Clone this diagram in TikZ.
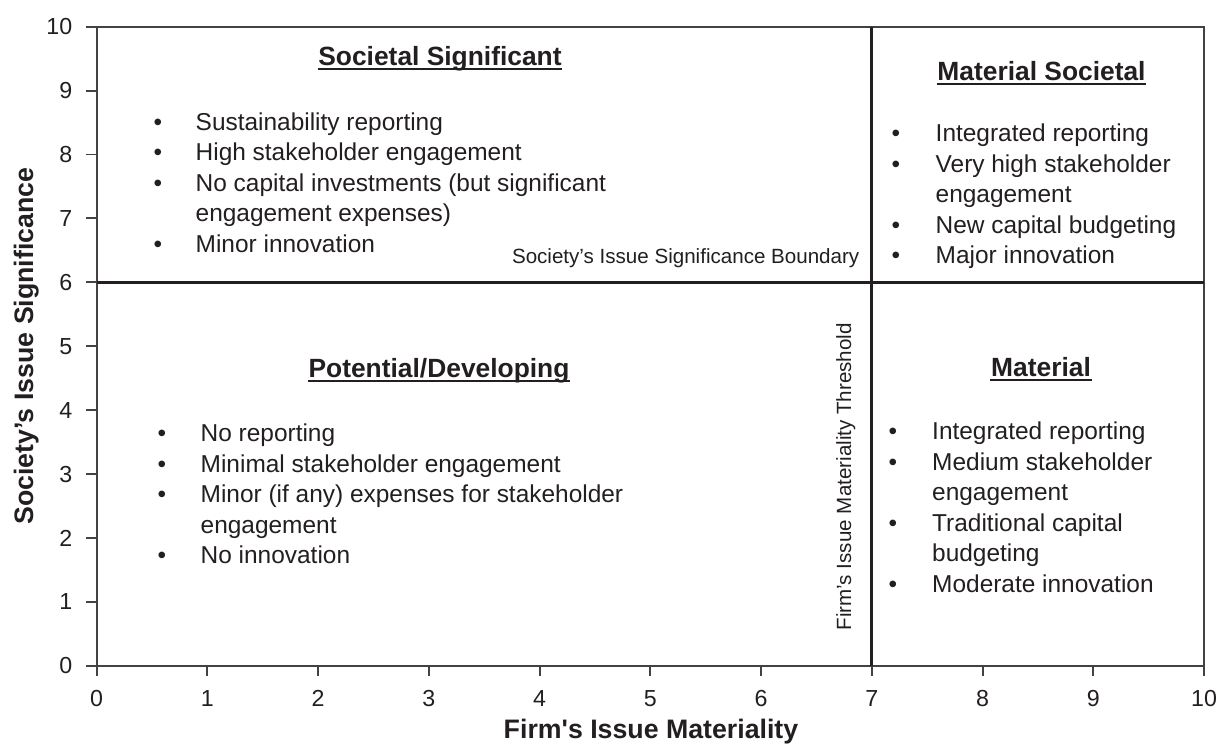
\documentclass[tikz,border=0pt]{standalone}
\usepackage{fontspec}
\setmainfont{Liberation Sans}
\definecolor{ink}{RGB}{35,31,32}
\newcommand\qfItem{\fontsize{6.95}{8}\selectfont}
\newcommand\qfHead{\fontsize{7.5}{9}\selectfont\bfseries}
\newcommand\qfTick{\fontsize{6.6}{8}\selectfont}
\newcommand\qfSmall{\fontsize{5.85}{7}\selectfont}
\newcommand\qfAxis{\fontsize{7.6}{9}\selectfont\bfseries}
\begin{document}
\begin{tikzpicture}[x=0.01cm,y=-0.01cm,
  every node/.style={inner sep=0pt, text=ink},
  itemtxt/.style={anchor=base west, font=\qfItem},
  bul/.style={anchor=base, font=\qfItem},
  heading/.style={anchor=base, font=\qfHead},
  headline/.style={draw=ink, line width=0.55pt},
  frame/.style={draw=ink!85, line width=0.55pt},
  divider/.style={draw=ink, line width=0.9pt},
  tickmark/.style={draw=ink!85, line width=0.55pt},
]
\useasboundingbox (0,0) rectangle (1221,753);
\fill[white] (0,0) rectangle (1221,753);

% frame and dividers
\coordinate (ll) at (96.7,665.7);
\coordinate (ur) at (1204,26.7);
\draw[frame] (ll) rectangle (ur);
\coordinate (h0) at (96.7,282.3);
\coordinate (h1) at (1204,282.3);
\coordinate (v0) at (871.6,26.7);
\coordinate (v1) at (871.6,665.7);
\draw[divider] (h0) -- (h1);
\draw[divider] (v0) -- (v1);

% ticks and tick labels
\foreach \i in {0,...,10} {
  \pgfmathsetmacro\yy{665.7-63.9*\i}
  \coordinate (yt\i) at (96.7,\yy);
  \coordinate (ye\i) at (86,\yy);
  \draw[tickmark] (yt\i) -- (ye\i);
  \node[anchor=east, font=\qfTick] (yl\i) at (73,\yy) {\i};
  \pgfmathsetmacro\xx{96.7+110.73*\i}
  \coordinate (xt\i) at (\xx,665.7);
  \coordinate (xe\i) at (\xx,676.3);
  \draw[tickmark] (xt\i) -- (xe\i);
  \node[anchor=base, font=\qfTick] (xl\i) at (\xx,706) {\i};
}

% axis titles
\node[anchor=base, font=\qfAxis] (xtitle) at (651,738) {Firm\textquotesingle s Issue Materiality};
\node[anchor=base, font=\qfAxis, rotate=90] (ytitle) at (33,346) {Society’s Issue Significance};

% boundary labels
\node[anchor=base east, font=\qfSmall] (sbound) at (860,263) {Society’s Issue Significance Boundary};
\node[anchor=base west, font=\qfSmall, rotate=90] (fbound) at (851,631) {Firm’s Issue Materiality Threshold};

% headings
\node[heading] (hTL) at (440,65) {Societal Significant};
\node[heading] (hTR) at (1041.5,80) {Material Societal};
\node[heading] (hBL) at (439,377) {Potential/Developing};
\node[heading] (hBR) at (1041,376) {Material};
\foreach \h in {hTL,hTR,hBL,hBR}
  \draw[headline] ([yshift=-1.1pt]\h.base west) -- ([yshift=-1.1pt]\h.base east);

% top-left items
\foreach \yy/\t [count=\k] in {130/Sustainability reporting,160.5/High stakeholder engagement,191/No capital investments (but significant,221.5/engagement expenses),252/Minor innovation}
  \node[itemtxt] (tl\k) at (195,\yy) {\t};
\foreach \yy [count=\k] in {130,160.5,191,252}
  \node[bul] (tlb\k) at (158,\yy) {•};

% top-right items
\foreach \yy/\t [count=\k] in {141.5/Integrated reporting,172/Very high stakeholder,202.5/engagement,233/New capital budgeting,263.5/Major innovation}
  \node[itemtxt] (tr\k) at (935,\yy) {\t};
\foreach \yy [count=\k] in {141.5,172,233,263.5}
  \node[bul] (trb\k) at (896,\yy) {•};

% bottom-left items
\foreach \yy/\t [count=\k] in {441.5/No reporting,472/Minimal stakeholder engagement,502.5/Minor (if any) expenses for stakeholder,533/engagement,563.5/No innovation}
  \node[itemtxt] (bl\k) at (200,\yy) {\t};
\foreach \yy [count=\k] in {441.5,472,502.5,563.5}
  \node[bul] (blb\k) at (162,\yy) {•};

% bottom-right items
\foreach \yy/\t [count=\k] in {439.5/Integrated reporting,470/Medium stakeholder,500.5/engagement,531/Traditional capital,561.5/budgeting,592/Moderate innovation}
  \node[itemtxt] (br\k) at (931.5,\yy) {\t};
\foreach \yy [count=\k] in {439.5,470,531,592}
  \node[bul] (brb\k) at (893,\yy) {•};
\end{tikzpicture}
\end{document}
